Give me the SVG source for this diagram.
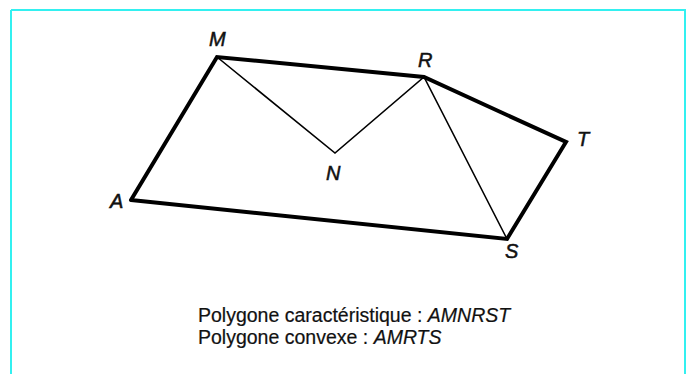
<svg xmlns="http://www.w3.org/2000/svg" width="693" height="374" viewBox="0 0 693 374">
<style>
.thick{stroke:#000;stroke-width:4;fill:none;stroke-linejoin:miter;stroke-linecap:round}
.thin{stroke:#000;stroke-width:1.6;fill:none;stroke-linecap:round}
.lbl{font-family:"Liberation Sans",Arial,sans-serif;font-style:italic;font-size:20px;fill:#111;stroke:#111;stroke-width:0.5}
.cap{font-family:"Liberation Sans",Arial,sans-serif;font-size:19.5px;fill:#111;stroke:#111;stroke-width:0.2}
</style>
<rect x="0" y="0" width="693" height="374" fill="#fff"/>
<path d="M11 10 H685 V374 M11 10 V374" stroke="#33f0f0" stroke-width="2" fill="none"/>
<g id="connectors">
<polyline class="thick" points="131,200 217,57 424,77 566,142 507,239 131,200"/>
<polyline class="thin" points="217,57 335,153 424,77 507,239"/>
</g>
<g id="A"><text class="lbl" x="110" y="208">A</text></g>
<g id="M"><text class="lbl" x="209" y="46">M</text></g>
<g id="N"><text class="lbl" x="326" y="180">N</text></g>
<g id="R"><text class="lbl" x="418" y="67">R</text></g>
<g id="T"><text class="lbl" x="577" y="146">T</text></g>
<g id="S"><text class="lbl" x="505" y="258">S</text></g>
<g id="caption">
<text class="cap" x="198" y="322">Polygone caractéristique : <tspan font-style="italic">AMNRST</tspan></text>
<text class="cap" x="198" y="344">Polygone convexe : <tspan font-style="italic">AMRTS</tspan></text>
</g>
</svg>
